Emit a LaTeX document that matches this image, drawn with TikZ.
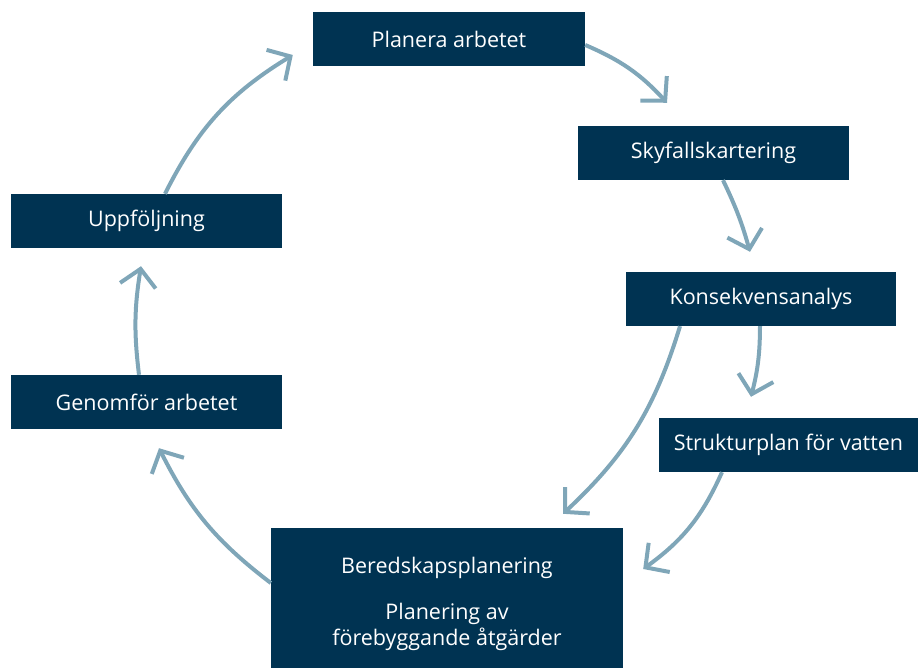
\documentclass[tikz,border=0pt]{standalone}
\usepackage{fontspec}
\setmainfont{Open Sans}
\usetikzlibrary{arrows.meta}

\definecolor{boxBlue}{HTML}{003352}
\definecolor{arrowBlue}{HTML}{7FA6B8}

\begin{document}
\begin{tikzpicture}
[x=1pt,y=1pt,
  lineDecorate/.style={draw=arrowBlue,line width=4pt,
    -{Straight Barb[length=17pt,width=36pt]}},%
  nodeDecorate/.style={shape=rectangle,fill=boxBlue,text=white,
    minimum height=54pt,inner sep=0pt,
    font=\fontsize{21.5}{26}\selectfont}]
\useasboundingbox (0,0) rectangle (919,668);
%% nodes or vertices
\foreach \nodename/\x/\y/\w/\txt in {plan/449/629/272/Planera arbetet,
  skyfall/713.5/515/271/Skyfallskartering,
  konsek/761/369/270/Konsekvensanalys,
  struktur/788.5/223/259/Strukturplan för vatten,
  genom/146.5/266/271/Genomför arbetet,
  uppf/146.5/447/271/Uppföljning}
{
  \node (\nodename) at (\x,\y) [nodeDecorate,minimum width=\w pt] {\txt};
}
% box runs off the bottom edge
\node (bered) at (447,64) [nodeDecorate,minimum width=352pt,
  minimum height=152pt,align=center]
  {Beredskapsplanering\\[20pt]Planering av\\förebyggande åtgärder};
%% arrow tips
\coordinate (tipSky) at ([xshift=-46.5pt,yshift=23pt]skyfall.north);
\coordinate (tipKon) at ([xshift=-11pt,yshift=20pt]konsek.north);
\coordinate (tipStr) at ([xshift=-37.5pt,yshift=21pt]struktur.north);
\coordinate (tipBerA) at ([xshift=116pt,yshift=14pt]bered.north);
\coordinate (tipBerB) at ([xshift=20pt,yshift=35pt]bered.east);
\coordinate (tipGen) at ([xshift=12.5pt,yshift=-19pt]genom.south);
\coordinate (tipUpp) at ([xshift=-5.5pt,yshift=-18pt]uppf.south);
\coordinate (tipPla) at ([xshift=-20pt,yshift=-16pt]plan.west);
%% arrow starts
\coordinate (outPla) at ([yshift=-6pt]plan.east);
\coordinate (outSky) at ([xshift=9.5pt]skyfall.south);
\coordinate (outKonA) at ([xshift=-1pt]konsek.south);
\coordinate (outKonB) at ([xshift=-81pt]konsek.south);
\coordinate (outStr) at ([xshift=-66.5pt]struktur.south);
\coordinate (outBer) at ([yshift=21pt]bered.west);
\coordinate (outGen) at ([xshift=-7.5pt]genom.north);
\coordinate (outUpp) at ([xshift=18.5pt]uppf.north);
%% edges or lines
\path
\foreach \startnode/\endnode/\bend in {
  outPla/tipSky/12, outSky/tipKon/5, outKonA/tipStr/7,
  outKonB/tipBerA/15, outStr/tipBerB/15, outBer/tipGen/13,
  outGen/tipUpp/8, outUpp/tipPla/16}
{
  (\startnode) edge[lineDecorate,bend left=\bend] (\endnode)
};
\end{tikzpicture}
\end{document}
